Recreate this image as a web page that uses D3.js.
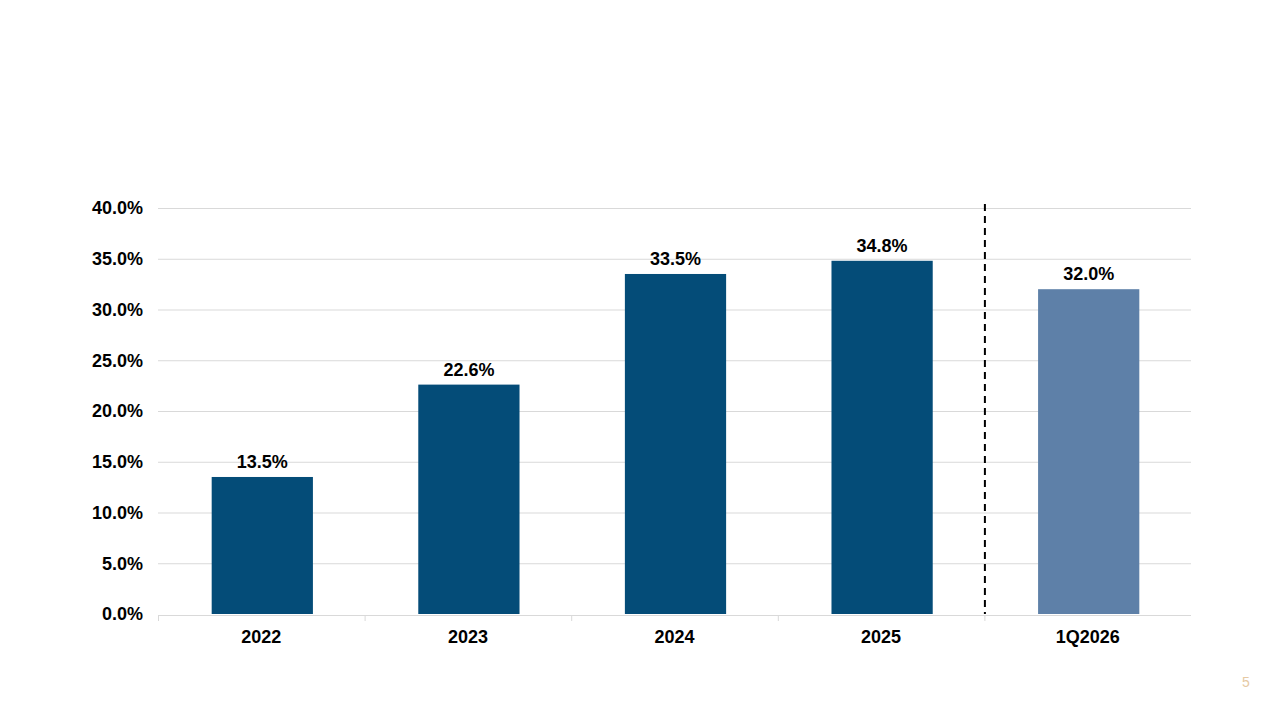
<!DOCTYPE html>
<html><head><meta charset="utf-8">
<script src="https://cdn.jsdelivr.net/npm/d3@7"></script>
<style>body{margin:0;background:#fff;}svg{display:block;font-family:"Liberation Sans",Arial,sans-serif;}</style>
</head><body>
<svg id="c" width="1280" height="720"></svg>
<script>
const categories = ["2022","2023","2024","2025","1Q2026"];
const values = [13.5, 22.6, 33.5, 34.8, 32.0];
const yTicks = [0,5,10,15,20,25,30,35,40];

const svg = d3.select("#c");
const m = {left:158, right:1191, top:208, bottom:614};
const x = d3.scaleBand().domain(categories).range([m.left+1, m.right+1]).paddingInner(0.51).paddingOuter(0.255);
const xb = d3.scaleBand().domain(categories).range([m.left, m.right]);
const y = d3.scaleLinear().domain([0,40]).range([m.bottom, m.top]);

// gridlines
svg.append("g").selectAll("line").data(yTicks.slice(1)).join("line")
  .attr("x1", m.left).attr("x2", m.right)
  .attr("y1", d=>y(d)+0.5).attr("y2", d=>y(d)+0.5)
  .attr("stroke", "#d9d9d9").attr("stroke-width", 1);

// y labels
svg.append("g").selectAll("text").data(yTicks).join("text")
  .attr("x", 143).attr("y", d=>y(d)).attr("dy","0.36em")
  .attr("text-anchor","end").attr("font-size", 18).attr("font-weight","bold").attr("fill","#000")
  .text(d=>d.toFixed(1)+"%");

// bars
svg.append("g").selectAll("rect").data(values).join("rect")
  .attr("x", (d,i)=>x(categories[i])).attr("width", x.bandwidth())
  .attr("y", d=>y(d)).attr("height", d=>y(0)-y(d))
  .attr("fill", (d,i)=> i===4 ? "#5e80a8" : "#044c78");

// x axis line
svg.append("line").attr("x1", m.left).attr("x2", m.right)
  .attr("y1", y(0)+1.5).attr("y2", y(0)+1.5).attr("stroke","#d9d9d9").attr("stroke-width",1);
// boundary ticks
svg.append("g").selectAll("line").data(categories).join("line")
  .attr("x1", d=>xb(d)+0.5).attr("x2", d=>xb(d)+0.5)
  .attr("y1", y(0)+1.5).attr("y2", y(0)+7)
  .attr("stroke","#d9d9d9").attr("stroke-width",1);

// x labels
svg.append("g").selectAll("text").data(categories).join("text")
  .attr("x", d=>xb(d)+xb.bandwidth()/2).attr("y", 643)
  .attr("text-anchor","middle").attr("font-size",18).attr("font-weight","bold").attr("fill","#000")
  .text(d=>d);

// data labels
svg.append("g").selectAll("text").data(values).join("text")
  .attr("x", (d,i)=>x(categories[i])+x.bandwidth()/2).attr("y", d=>y(d)-9)
  .attr("text-anchor","middle").attr("font-size",18).attr("font-weight","bold").attr("fill","#000")
  .text(d=>d.toFixed(1)+"%");

// dashed divider
svg.append("line").attr("x1", xb("1Q2026")+0.5).attr("x2", xb("1Q2026")+0.5)
  .attr("y1", 204).attr("y2", y(0))
  .attr("stroke","#000").attr("stroke-width",2).attr("stroke-dasharray","7,5");

// page number
svg.append("text").attr("x",1246).attr("y",687).attr("text-anchor","middle")
  .attr("font-size",14).attr("fill","#e6c9a3").text("5");
</script>
</body></html>
